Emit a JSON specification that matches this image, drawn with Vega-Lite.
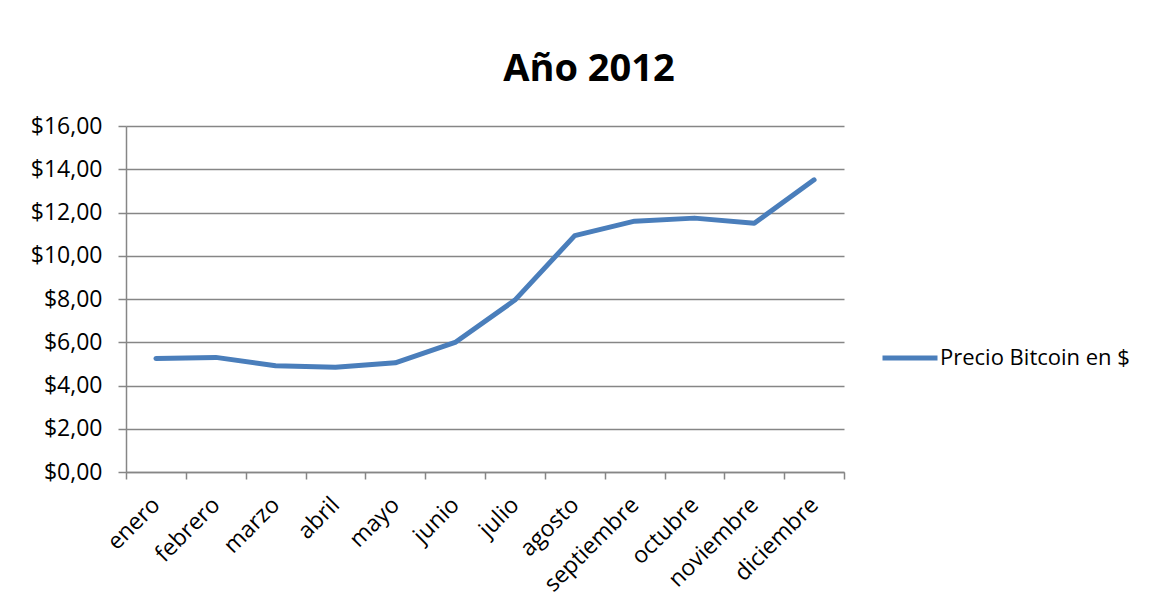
{
  "$schema": "https://vega.github.io/schema/vega-lite/v6.json",
  "width": 718,
  "height": 346,
  "autosize": {"type": "none"},
  "padding": {"left": 126, "top": 126, "right": 314, "bottom": 135},
  "background": "white",
  "title": {
    "text": "Año 2012",
    "font": "Open Sans",
    "fontSize": 38,
    "fontWeight": "bold",
    "color": "black",
    "anchor": "middle",
    "baseline": "alphabetic",
    "offset": -4,
    "dx": 104
  },
  "data": {
    "values": [
      {"mes": "enero", "precio": 5.25, "serie": "Precio Bitcoin en $"},
      {"mes": "febrero", "precio": 5.30, "serie": "Precio Bitcoin en $"},
      {"mes": "marzo", "precio": 4.91, "serie": "Precio Bitcoin en $"},
      {"mes": "abril", "precio": 4.84, "serie": "Precio Bitcoin en $"},
      {"mes": "mayo", "precio": 5.05, "serie": "Precio Bitcoin en $"},
      {"mes": "junio", "precio": 5.99, "serie": "Precio Bitcoin en $"},
      {"mes": "julio", "precio": 7.95, "serie": "Precio Bitcoin en $"},
      {"mes": "agosto", "precio": 10.93, "serie": "Precio Bitcoin en $"},
      {"mes": "septiembre", "precio": 11.60, "serie": "Precio Bitcoin en $"},
      {"mes": "octubre", "precio": 11.74, "serie": "Precio Bitcoin en $"},
      {"mes": "noviembre", "precio": 11.50, "serie": "Precio Bitcoin en $"},
      {"mes": "diciembre", "precio": 13.51, "serie": "Precio Bitcoin en $"}
    ]
  },
  "mark": {"type": "line", "strokeWidth": 5, "strokeCap": "round", "strokeJoin": "round"},
  "encoding": {
    "x": {
      "field": "mes",
      "type": "nominal",
      "sort": null,
      "bandPosition": 0.5,
      "scale": {"type": "band", "paddingInner": 0, "paddingOuter": 0},
      "axis": {
        "title": null,
        "tickBand": "extent",
        "grid": false,
        "labelAngle": -45,
        "labelAlign": "right",
        "labelBaseline": "middle",
        "labelPadding": 22,
        "tickSize": 7,
        "labelFont": "Open Sans",
        "labelFontSize": 23,
        "labelColor": "black",
        "domainColor": "#868686",
        "tickColor": "#868686",
        "domainWidth": 1.5,
        "tickWidth": 1.5
      }
    },
    "y": {
      "field": "precio",
      "type": "quantitative",
      "scale": {"domain": [0, 16], "nice": false, "zero": true},
      "axis": {
        "title": null,
        "values": [0, 2, 4, 6, 8, 10, 12, 14, 16],
        "labelExpr": "'$' + replace(format(datum.value, '.2f'), '.', ',')",
        "tickSize": 8,
        "labelPadding": 16,
        "labelFont": "Open Sans",
        "labelFontSize": 23,
        "labelColor": "black",
        "grid": true,
        "gridColor": "#868686",
        "gridWidth": 1.5,
        "domainColor": "#868686",
        "tickColor": "#868686",
        "domainWidth": 1.5,
        "tickWidth": 1.5
      }
    },
    "color": {
      "field": "serie",
      "type": "nominal",
      "scale": {"range": ["#4A7EBB"]},
      "legend": {
        "title": null,
        "orient": "none",
        "legendX": 754,
        "legendY": 202,
        "symbolType": "stroke",
        "symbolSize": 3025,
        "symbolStrokeWidth": 5,
        "labelFont": "Open Sans",
        "labelFontSize": 22,
        "labelColor": "black",
        "labelOffset": 0,
        "labelLimit": 400
      }
    }
  },
  "config": {"view": {"stroke": null}}
}
